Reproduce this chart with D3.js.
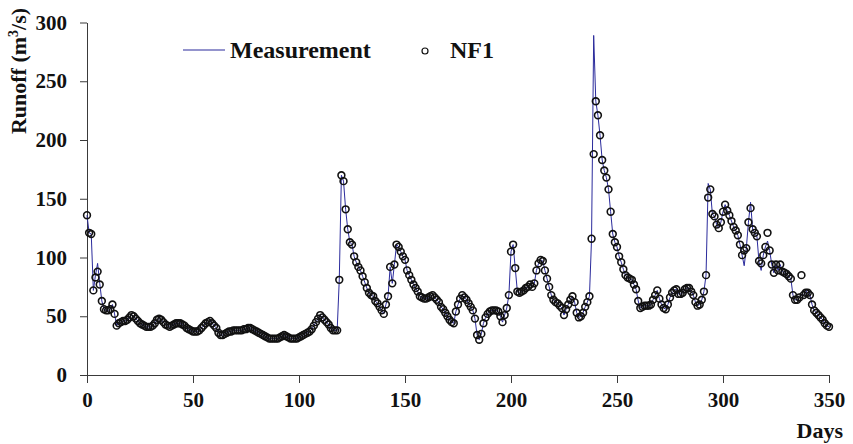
<!DOCTYPE html>
<html><head><meta charset="utf-8">
<script src="https://cdn.jsdelivr.net/npm/d3@7"></script>
<style>body{margin:0;background:#fff}svg{display:block}text{font-family:"Liberation Serif","Times New Roman",serif;font-weight:bold;fill:#111}</style>
</head><body><svg id="c" width="853" height="444"></svg>
<script>
// Daily runoff (m3/s), days 0..350
const measurement = [
136,121,120,72,85,95,78,63,56,55,
55,56,60,52,42,44,45,46,46,47,
49,51,50,48,46,44,43,42,41,41,
41,42,44,47,48,47,45,43,42,41,
42,43,44,44,44,43,42,40,39,38,
37,37,37,38,40,42,44,45,46,44,
42,40,36,34,34,35,36,37,37,38,
38,38,38,38,39,39,40,40,39,38,
37,36,35,34,33,32,31,31,31,31,
31,32,33,34,33,32,31,31,31,31,
32,33,34,35,36,37,39,42,45,48,
51,49,47,45,43,40,38,38,38,81,
170,165,141,124,113,111,101,96,92,89,
84,79,74,70,68,67,63,61,58,55,
52,60,67,92,78,94,111,109,105,101,
98,89,85,81,77,74,71,67,66,65,
65,66,67,68,66,64,62,58,56,53,
50,47,45,44,54,60,65,68,66,64,
61,58,55,48,34,30,35,44,49,52,
54,55,55,55,54,50,45,51,57,68,
105,111,91,71,70,71,72,74,75,77,
75,78,89,95,98,97,89,82,75,68,
64,62,61,59,57,51,56,60,64,67,
62,53,49,50,53,58,62,67,116,289,
233,221,204,183,174,168,158,139,120,113,
109,101,96,90,85,83,82,81,77,73,
63,57,58,59,59,59,60,64,68,72,
65,60,57,56,60,66,70,72,73,69,
69,70,73,74,74,71,68,62,59,60,
64,71,85,163,158,137,135,128,125,130,
139,145,140,136,131,126,123,119,111,102,
93,108,130,147,124,121,118,96,89,102,
109,114,106,94,87,94,89,94,88,87,
86,84,82,68,64,64,66,68,68,70,
73,68,60,55,53,51,49,47,44,42,41];
const nf1 = [
136,121,120,72,83,88,77,63,56,55,
55,56,60,52,42,44,45,46,46,47,
49,51,50,48,46,44,43,42,41,41,
41,42,44,47,48,47,45,43,42,41,
42,43,44,44,44,43,42,40,39,38,
37,37,37,38,40,42,44,45,46,44,
42,40,36,34,34,35,36,37,37,38,
38,38,38,38,39,39,40,40,39,38,
37,36,35,34,33,32,31,31,31,31,
31,32,33,34,33,32,31,31,31,31,
32,33,34,35,36,37,39,42,45,48,
51,49,47,45,43,40,38,38,38,81,
170,165,141,124,113,111,101,96,92,89,
84,79,74,70,68,67,63,61,58,55,
52,60,67,92,78,94,111,109,105,101,
98,89,85,81,77,74,71,67,66,65,
65,66,67,68,66,64,62,58,56,53,
50,47,45,44,54,60,65,68,66,64,
61,58,55,48,34,30,35,44,49,52,
54,55,55,55,54,50,45,51,57,68,
105,111,91,71,70,71,72,74,75,77,
75,78,89,95,98,97,89,82,75,68,
64,62,61,59,57,51,56,60,64,67,
62,53,49,50,53,58,62,67,116,188,
233,221,204,183,174,168,158,139,120,113,
109,101,96,90,85,83,82,81,77,73,
63,57,58,59,59,59,60,64,68,72,
65,60,57,56,60,66,70,72,73,69,
69,70,73,74,74,71,68,62,59,60,
64,71,85,151,158,137,135,128,125,130,
139,145,140,136,131,126,123,119,111,102,
106,108,130,142,124,121,118,97,95,102,
109,121,106,94,87,94,89,94,88,87,
86,84,82,68,64,64,66,85,68,70,
70,68,60,55,53,51,49,47,44,42,41];
const xTicks = [0,50,100,150,200,250,300,350];
const yTicks = [0,50,100,150,200,250,300];
const seriesNames = ["Measurement","NF1"];

const svg = d3.select("#c");
const m = {l:87, r:24, t:22.5, b:69};
const W = 853, H = 444;
const x = d3.scaleLinear().domain([0,350]).range([m.l, W-m.r]);
const y = d3.scaleLinear().domain([0,300]).range([H-m.b, m.t]);
const axisColor = "#3a3a3a";

const gx = svg.append("g").attr("transform",`translate(0,${H-m.b})`)
  .call(d3.axisBottom(x).tickValues(xTicks).tickSize(8).tickPadding(9).tickSizeOuter(0));
const gy = svg.append("g").attr("transform",`translate(${m.l},0)`)
  .call(d3.axisLeft(y).tickValues(yTicks).tickSize(7).tickPadding(13).tickSizeOuter(0));
[gx,gy].forEach(g=>{
  g.selectAll("path,line").attr("stroke",axisColor).attr("stroke-width",1);
  g.selectAll("text").style("font-size","21px").style("font-family","'Liberation Serif',serif").style("font-weight","bold").attr("fill","#111");
});

const days = measurement.map((_,i)=>i);
const line = d3.line().x(i=>x(i)).y(i=>y(measurement[i]));
svg.append("path").datum(days).attr("d",line).attr("fill","none")
  .attr("stroke","#2b2b9c").attr("stroke-width",1);

svg.append("g").selectAll("circle").data(days).join("circle")
  .attr("cx",i=>x(i)).attr("cy",i=>y(nf1[i])).attr("r",3.4)
  .attr("fill","none").attr("stroke","#111").attr("stroke-width",1.6);

// axis titles
const yl = svg.append("text").attr("transform","translate(26,71) rotate(-90)")
  .attr("text-anchor","middle").style("font-size","22px");
yl.append("tspan").text("Runoff (m");
yl.append("tspan").text("3").style("font-size","14px").attr("dy","-8");
yl.append("tspan").text("/s)").attr("dy","8");
svg.append("text").attr("x",843).attr("y",438).attr("text-anchor","end")
  .style("font-size","22px").text("Days");

// legend
svg.append("line").attr("x1",183).attr("x2",225).attr("y1",50).attr("y2",50)
  .attr("stroke","#2b2b9c").attr("stroke-width",1.2);
svg.append("text").attr("x",230).attr("y",58).style("font-size","24px").text(seriesNames[0]);
svg.append("circle").attr("cx",425).attr("cy",51).attr("r",3)
  .attr("fill","none").attr("stroke","#111").attr("stroke-width",1.2);
svg.append("text").attr("x",450).attr("y",58).style("font-size","24px").text(seriesNames[1]);
</script></body></html>
